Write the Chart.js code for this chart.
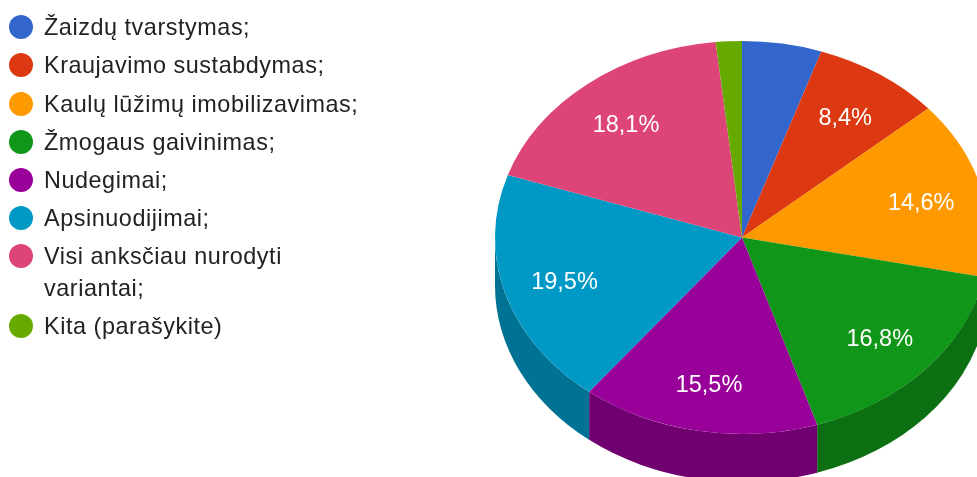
<!DOCTYPE html>
<html><head><meta charset="utf-8">
<style>
html,body{margin:0;padding:0;background:#fff;overflow:hidden;width:977px;height:477px}
#wrap{position:absolute;left:0;top:0;width:977px;height:477px}
#c{filter:blur(.4px)}
#legend{position:absolute;left:0;top:0;width:370px;font:23.4px "Liberation Sans",Arial,sans-serif;letter-spacing:.55px;color:#222;filter:blur(.5px)}
.it{position:absolute;left:44px;line-height:32px;white-space:nowrap}
.dot{position:absolute;left:-35px;top:4px;width:24px;height:24px;border-radius:50%}
</style>
</head><body>
<div id="wrap"><canvas id="c" width="977" height="477"></canvas><div id="legend"></div></div>
<script src="https://cdn.jsdelivr.net/npm/chart.js@4"></script>
<script>
const categories=["Žaizdų tvarstymas;","Kraujavimo sustabdymas;","Kaulų lūžimų imobilizavimas;","Žmogaus gaivinimas;","Nudegimai;","Apsinuodijimai;","Visi anksčiau nurodyti variantai;","Kita (parašykite)"];
const shares=[5.2,8.4,14.64,16.84,15.54,19.54,18.14,1.7];
const colors=["#3366cc","#dc3912","#ff9900","#109618","#990099","#0099c6","#dd4477","#66aa00"];
const sideColors=["#264d99","#a52b0e","#bf7300","#0c7012","#700070","#007394","#a63359","#4d8000"];
const hiddenLabelBelow=5.5;
const legendTops=[11,49,88,126,164,202,240,310];

const legend=document.getElementById('legend');
categories.forEach((t,i)=>{
  const d=document.createElement('div');d.className='it';d.style.top=legendTops[i]+'px';
  d.innerHTML='<span class="dot" style="background:'+colors[i]+'"></span>'+t.replace(' variantai;','<br>variantai;');
  legend.appendChild(d);
});

const view={cx:742,cy:237.5,rx:247,ry:196.5,depth:48,labelR:.75,labelDrop:3};
function fit(chart,ctx){
  const a=chart.getDatasetMeta(0).data[0];
  const R=a.outerRadius;
  ctx.translate(view.cx,view.cy);
  ctx.scale(view.rx/R,view.ry/R);
  ctx.translate(-a.x,-a.y);
}
const pie3d={
  id:'pie3d',
  beforeDatasetsDraw(chart){
    const ctx=chart.ctx,arcs=chart.getDatasetMeta(0).data;
    // side wall of the front half of the pie, one filled band per slice
    arcs.forEach((el,i)=>{
      const a0=Math.max(el.startAngle,0),a1=Math.min(el.endAngle,Math.PI);
      if(a1<=a0) return;
      ctx.beginPath();
      ctx.ellipse(view.cx,view.cy,view.rx,view.ry,0,a0,a1);
      ctx.ellipse(view.cx,view.cy+view.depth,view.rx,view.ry,0,a1,a0,true);
      ctx.closePath();
      ctx.fillStyle=sideColors[i];
      ctx.fill();
    });
    ctx.save();
    fit(chart,ctx);
  },
  afterDatasetsDraw(chart){
    const ctx=chart.ctx,arcs=chart.getDatasetMeta(0).data;
    ctx.restore();
    ctx.save();
    ctx.fillStyle='#fff';
    ctx.font='23.5px "Liberation Sans",Arial,sans-serif';
    ctx.textAlign='center';ctx.textBaseline='middle';
    arcs.forEach((el,i)=>{
      if(shares[i]<hiddenLabelBelow) return;
      const m=(el.startAngle+el.endAngle)/2;
      const x=view.cx+Math.cos(m)*view.rx*view.labelR;
      const y=view.cy+view.labelDrop+Math.sin(m)*view.ry*view.labelR;
      ctx.fillText(shares[i].toFixed(1).replace('.',',')+'%',x,y);
    });
    ctx.restore();
  }
};
new Chart(document.getElementById('c'),{
  type:'pie',
  data:{labels:categories,datasets:[{data:shares,backgroundColor:colors,borderWidth:0,clip:false}]},
  options:{responsive:false,animation:false,events:[],
    plugins:{legend:{display:false},tooltip:{enabled:false}}},
  plugins:[pie3d]
});
</script>
</body></html>
